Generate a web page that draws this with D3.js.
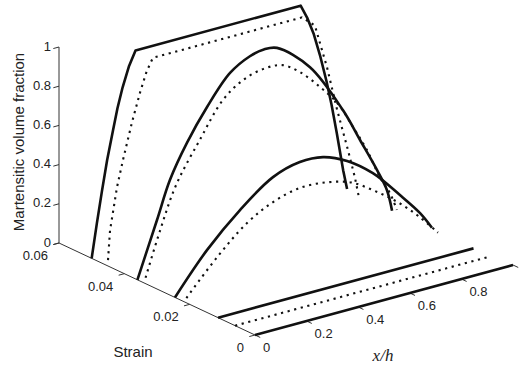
<!DOCTYPE html>
<html><head><meta charset="utf-8">
<script src="https://cdn.jsdelivr.net/npm/d3@7"></script>
<style>body{margin:0;background:#fff}svg{display:block}</style>
</head><body>
<svg id="c" width="521" height="371"></svg>
<script>
// ---- data ----
const xhTicks = [0, 0.2, 0.4, 0.6, 0.8];
const strainTicks = [0, 0.02, 0.04, 0.06];
const zTicks = [0, 0.2, 0.4, 0.6, 0.8, 1];

// solid curves (model A)
const solidStrain = [0.05, 0.036, 0.0245, 0.0113, 0];
const solid1X = [0, 0.02, 0.04, 0.06, 0.083, 0.10, 0.12, 0.145, 0.17, 0.81, 0.835, 0.86, 0.885, 0.91, 0.93, 0.95, 0.975, 0.99];
const solid1Z = [0, 0.17, 0.33, 0.48, 0.625, 0.73, 0.83, 0.93, 1.0, 1.0, 0.93, 0.84, 0.72, 0.58, 0.45, 0.30, 0.10, 0];
const solid2X = [0, 0.076, 0.126, 0.192, 0.27, 0.359, 0.436, 0.49, 0.541, 0.669, 0.797, 0.863, 0.929, 0.967, 0.987];
const solid2Z = [0, 0.278, 0.464, 0.63, 0.785, 0.927, 0.985, 1.0, 0.99, 0.846, 0.58, 0.405, 0.228, 0.113, 0];
const solid3X = [0, 0.124, 0.252, 0.38, 0.484, 0.574, 0.667, 0.767, 0.872, 0.95, 0.996];
const solid3Z = [0, 0.197, 0.356, 0.478, 0.518, 0.511, 0.458, 0.36, 0.211, 0.091, 0];
const solid4X = [0, 0.99];
const solid4Z = [0, 0];
const solid5X = [0, 1];
const solid5Z = [0, 0];

// dotted curves (model B)
const dottedStrain = [0.045, 0.0335, 0.021, 0.0061];
const dotted1X = [0, 0.008, 0.035, 0.058, 0.093, 0.124, 0.15, 0.174, 0.752, 0.802, 0.849, 0.888, 0.93, 0.957, 0.973];
const dotted1Z = [0.03, 0.18, 0.39, 0.52, 0.70, 0.84, 0.94, 1.0, 1.0, 0.94, 0.71, 0.48, 0.26, 0.11, 0];
const dotted2X = [0, 0.056, 0.118, 0.211, 0.30, 0.378, 0.455, 0.529, 0.598, 0.676, 0.746, 0.804, 0.858, 0.908, 0.947, 0.974];
const dotted2Z = [0.03, 0.25, 0.46, 0.66, 0.83, 0.904, 0.932, 0.926, 0.866, 0.762, 0.65, 0.512, 0.375, 0.219, 0.124, 0.028];
const dotted3X = [0, 0.119, 0.235, 0.336, 0.44, 0.545, 0.64, 0.73, 0.82, 0.9, 0.975];
const dotted3Z = [0.024, 0.19, 0.323, 0.394, 0.429, 0.42, 0.385, 0.31, 0.22, 0.12, 0.01];
const dotted4X = [0, 0.98];
const dotted4Z = [0, 0];

// ---- projection through linear scales ----
const origin = [255, 335];
const xhToDx = d3.scaleLinear().domain([0, 1]).range([0, 258]);
const xhToDy = d3.scaleLinear().domain([0, 1]).range([0, -70]);
const sToDx = d3.scaleLinear().domain([0, 0.06]).range([0, -196]);
const sToDy = d3.scaleLinear().domain([0, 0.06]).range([0, -92]);
const zToDy = d3.scaleLinear().domain([0, 1]).range([0, -196]);
function P(x, s, z) {
  return [origin[0] + xhToDx(x) + sToDx(s), origin[1] + xhToDy(x) + sToDy(s) + zToDy(z)];
}

const svg = d3.select("#c");
const font = "'Liberation Sans', Arial, Helvetica, sans-serif";
const axisCol = "#333";

// axes
const axes = svg.append("g").attr("stroke", axisCol).attr("stroke-width", 1).attr("fill", "none");
const seg = (a, b) => axes.append("line").attr("x1", a[0]).attr("y1", a[1]).attr("x2", b[0]).attr("y2", b[1]);
seg(P(0, 0.06, 0), P(0, 0.06, 1));
seg(P(0, 0, 0), P(0, 0.06, 0));
seg(P(0, 0, 0), P(1, 0, 0));
// ticks
zTicks.forEach(t => seg(P(0, 0.06, t), P(-0.022, 0.06, t)));
strainTicks.forEach(t => seg(P(0, t, 0), P(-0.022, t, 0)));
xhTicks.concat([1]).forEach(t => seg(P(t, 0, 0), P(t, -0.0016, 0)));

// tick labels
const lab = svg.append("g").attr("font-family", font).attr("font-size", 13).attr("fill", "#222");
zTicks.forEach(t => {
  const p = P(0, 0.06, t);
  lab.append("text").attr("x", p[0] - 8).attr("y", p[1] + 3.5).attr("text-anchor", "end").text(d3.format("~g")(t));
});
strainTicks.forEach(t => {
  const p = P(0, t, 0);
  lab.append("text").attr("x", p[0] - 11).attr("y", p[1] + 17).attr("text-anchor", "end").text(d3.format("~g")(t));
});
xhTicks.forEach(t => {
  const p = P(t, 0, 0);
  lab.append("text").attr("x", p[0] + 8).attr("y", p[1] + 17).attr("text-anchor", "start").text(d3.format("~g")(t));
});

// axis titles
svg.append("text").attr("font-family", font).attr("font-size", 15).attr("fill", "#222")
  .attr("text-anchor", "middle").attr("transform", "translate(24,142) rotate(-90)").text("Martensitic volume fraction");
svg.append("text").attr("font-family", font).attr("font-size", 15).attr("fill", "#222")
  .attr("text-anchor", "middle").attr("x", 133).attr("y", 357).text("Strain");
svg.append("text").attr("font-family", "'Liberation Serif', 'Times New Roman', serif").attr("font-style", "italic")
  .attr("font-size", 17).attr("fill", "#222").attr("text-anchor", "middle").attr("x", 383).attr("y", 361).text("x/h");

// curves
const line = d3.line().curve(d3.curveLinear);
const smooth = d3.line().curve(d3.curveCatmullRom.alpha(0.5));
function draw(xs, zs, s, dotted, gen) {
  const pts = xs.map((x, i) => P(x, s, zs[i]));
  const p = svg.append("path").attr("d", gen(pts)).attr("fill", "none").attr("stroke", "#111");
  if (dotted) p.attr("stroke-width", 2.1).attr("stroke-dasharray", "2.2,4.6");
  else p.attr("stroke-width", 2.6).attr("stroke-linejoin", "round");
}
draw(dotted1X, dotted1Z, dottedStrain[0], true, line);
draw(dotted2X, dotted2Z, dottedStrain[1], true, smooth);
draw(dotted3X, dotted3Z, dottedStrain[2], true, smooth);
draw(dotted4X, dotted4Z, dottedStrain[3], true, line);
draw(solid1X, solid1Z, solidStrain[0], false, line);
draw(solid2X, solid2Z, solidStrain[1], false, smooth);
draw(solid3X, solid3Z, solidStrain[2], false, smooth);
draw(solid4X, solid4Z, solidStrain[3], false, line);
draw(solid5X, solid5Z, solidStrain[4], false, line);
</script>
</body></html>
